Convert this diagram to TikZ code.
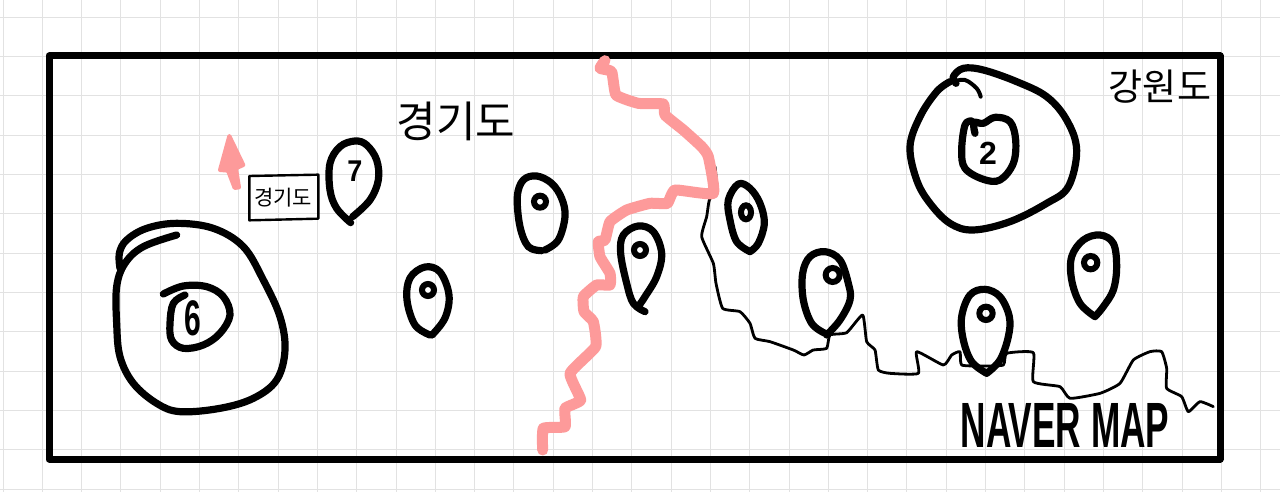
\documentclass[tikz,border=0pt]{standalone}
\usepackage{fontspec}
\setmainfont{Liberation Sans}
\newfontfamily\krfont{Noto Sans CJK KR}
\definecolor{gridc}{HTML}{E2E2E2}
\definecolor{pinkc}{HTML}{FD9A9A}
\tikzset{
  ink/.style={draw=black,line width=7.2pt,line cap=round,line join=round},
  inkring/.style={draw=black,line width=6pt},
  thinink/.style={draw=black,line width=2.8pt,line cap=round,line join=round},
  pinkline/.style={draw=pinkc,line width=11pt,line cap=round,line join=round},
  zone/.style={shift={(0,40)},scale=.33333},
  ztwo/.style={shift={(430,40)},scale=.33333},
  zthree/.style={shift={(850,40)},scale=.33333},
  hand/.style={font=\krfont,inner sep=0pt,text=black}
}
\begin{document}
\begin{tikzpicture}[x=1pt,y=-1pt]
\useasboundingbox (0,0) rectangle (1280,492);
\fill[white] (0,0) rectangle (1280,492);
% grid
\foreach \i in {0,...,32}{\draw[gridc,line width=1pt] ({3+39.3*\i},0) -- ({3+39.3*\i},492);}
\foreach \i in {0,...,12}{\draw[gridc,line width=1pt] (0,{17.4+39.3*\i}) -- (1280,{17.4+39.3*\i});}
% frame
\draw[black,line width=7pt,line join=round] (49,56) rectangle (1220,459);
% left big circle and small items
\begin{scope}[zone]
\draw[ink] plot[smooth,tension=.6] coordinates {(360,685)(358,640)(380,600)(440,565)(530,550)(640,565)(730,620)(790,720)(840,830)(855,930)(830,1020)(760,1075)(660,1105)(540,1115)(470,1090)(400,1030)(360,950)(350,850)(350,740)(375,670)(430,620)(530,585)};
\draw[ink] plot[smooth,tension=.6] coordinates {(490,762)(550,738)(620,740)(670,770)(690,825)(660,880)(610,915)(550,925)(515,900)(510,850)(520,790)(555,765)};
\draw[ink] plot[smooth,tension=.6] coordinates {(1058,530)(1110,480)(1135,420)(1130,360)(1100,315)(1065,303)(1020,320)(990,370)(990,450)(1010,505)(1052,548)};
\fill[pinkc,draw=pinkc,line width=4pt,line join=round] (688,288) -- (730,375) -- (708,385) -- (717,442) -- (704,444) -- (684,392) -- (660,390) -- cycle;
\draw[black,line width=2.4pt,line join=round] (748,408) -- (955,404) -- (955,536) -- (748,541) -- cycle;
\end{scope}
% pin at 428,300
\draw[ink] plot[smooth,tension=.6] coordinates {(430,335)(415,325)(407,300)(410,278)(425,267)(440,272)(449,295)(445,318)(432,335)};
\draw[inkring] (428,290) circle (6);
% middle pins
\begin{scope}[ztwo]
\draw[thinink] plot[smooth,tension=.3] coordinates {(855,380)(860,440)(838,480)(830,530)(815,590)(850,670)(858,730)(878,805)(930,815)(960,850)(975,895)(1020,905)(1090,930)(1122,945)(1150,930)(1190,925)(1200,885)(1250,878)(1298,825)(1310,905)(1335,930)(1345,990)(1380,1000)(1465,1000)(1460,935)(1540,975)(1565,945)(1590,935)(1595,975)(1660,978)(1720,975)(1730,940)(1810,938)(1810,1025)(1890,1040)(1920,1075)(2010,1060)(2070,1030)(2110,960)(2160,935)(2195,935)(2210,985)(2210,1045)(2255,1070)(2275,1115)(2310,1085)(2350,1100)};
\draw[ink] plot[smooth,tension=.6] coordinates {(335,632)(295,620)(270,560)(262,470)(280,420)(320,408)(365,430)(395,475)(405,530)(385,600)(345,630)};
\draw[inkring] (330,485) circle (18);
\draw[ink] plot[smooth,tension=.6] coordinates {(645,815)(610,790)(590,730)(572,640)(580,585)(625,558)(670,575)(695,640)(680,710)(645,770)(628,795)};
\draw[inkring] (630,630) circle (18);
\draw[ink] plot[smooth,tension=.6] coordinates {(960,635)(920,605)(900,540)(895,480)(925,432)(960,445)(990,490)(1003,550)(985,610)(960,635)};
\draw[inkring] (948,517) ellipse (15 and 21);
\draw[ink] plot[smooth,tension=.6] coordinates {(1185,880)(1145,850)(1120,780)(1118,700)(1140,650)(1185,635)(1230,660)(1255,730)(1260,780)(1230,840)(1190,885)};
\draw[inkring] (1208,705) circle (21);
\draw[pinkline] plot[smooth,tension=.25] coordinates {(525,62)(510,85)(545,95)(558,165)(625,190)(700,192)(705,225)(760,270)(815,320)(835,350)(850,460)(735,450)(712,490)(660,490)(590,510)(540,545)(525,600)(505,605)(510,650)(540,700)(540,735)(500,735)(460,770)(462,815)(490,845)(497,920)(420,1000)(452,1080)(405,1105)(405,1160)(340,1165)(338,1230)};
\end{scope}
% right side
\begin{scope}[zthree]
\draw[ink] plot[smooth,tension=.6] coordinates {(318,130)(310,110)(340,85)(400,90)(500,125)(590,170)(650,240)(680,330)(655,440)(590,490)(480,545)(370,570)(300,550)(240,490)(200,420)(180,320)(210,230)(260,155)(300,125)};
\draw[black,line width=4pt,line cap=round] plot[smooth,tension=.6] coordinates {(310,125)(345,120)(380,145)(392,170)};
\draw[ink] plot[smooth,tension=.6] coordinates {(375,280)(372,248)(400,250)(435,232)(480,245)(497,300)(490,370)(450,420)(400,418)(345,385)(335,330)(345,255)(365,243)};
\draw[ink] plot[smooth,tension=.6] coordinates {(410,1000)(365,965)(340,900)(335,830)(360,765)(405,748)(450,770)(478,830)(475,890)(450,960)(410,1000)};
\draw[inkring] (408,820) circle (20);
\draw[ink] plot[smooth,tension=.6] coordinates {(735,830)(690,790)(665,720)(665,650)(700,600)(750,585)(790,610)(800,680)(790,750)(760,800)(735,830)};
\draw[inkring] (722,668) circle (20);
\end{scope}
% texts
\node[hand,font=\krfont\fontsize{43}{43}\selectfont] (gyeonggi) at (456,121) {경기도};
\node[hand,font=\krfont\fontsize{21}{21}\selectfont] (boxlabel) at (283,198) {경기도};
\node[hand,font=\krfont\fontsize{37}{37}\selectfont] (gangwon) at (1160,87) {강원도};
\node[inner sep=0pt,xscale=.88,yscale=1.6,font=\bfseries\fontsize{40}{40}\selectfont] (naver) at (1065,425) {NAVER MAP};
\node[inner sep=0pt,font=\bfseries\fontsize{50}{50}\selectfont,xscale=.6] (nsix) at (193,318) {6};
\node[inner sep=0pt,font=\bfseries\fontsize{32}{32}\selectfont] (ntwo) at (988,153) {2};
\node[inner sep=0pt,font=\bfseries\fontsize{30}{30}\selectfont,xscale=.9] (nseven) at (355,171) {7};
\end{tikzpicture}
\end{document}
